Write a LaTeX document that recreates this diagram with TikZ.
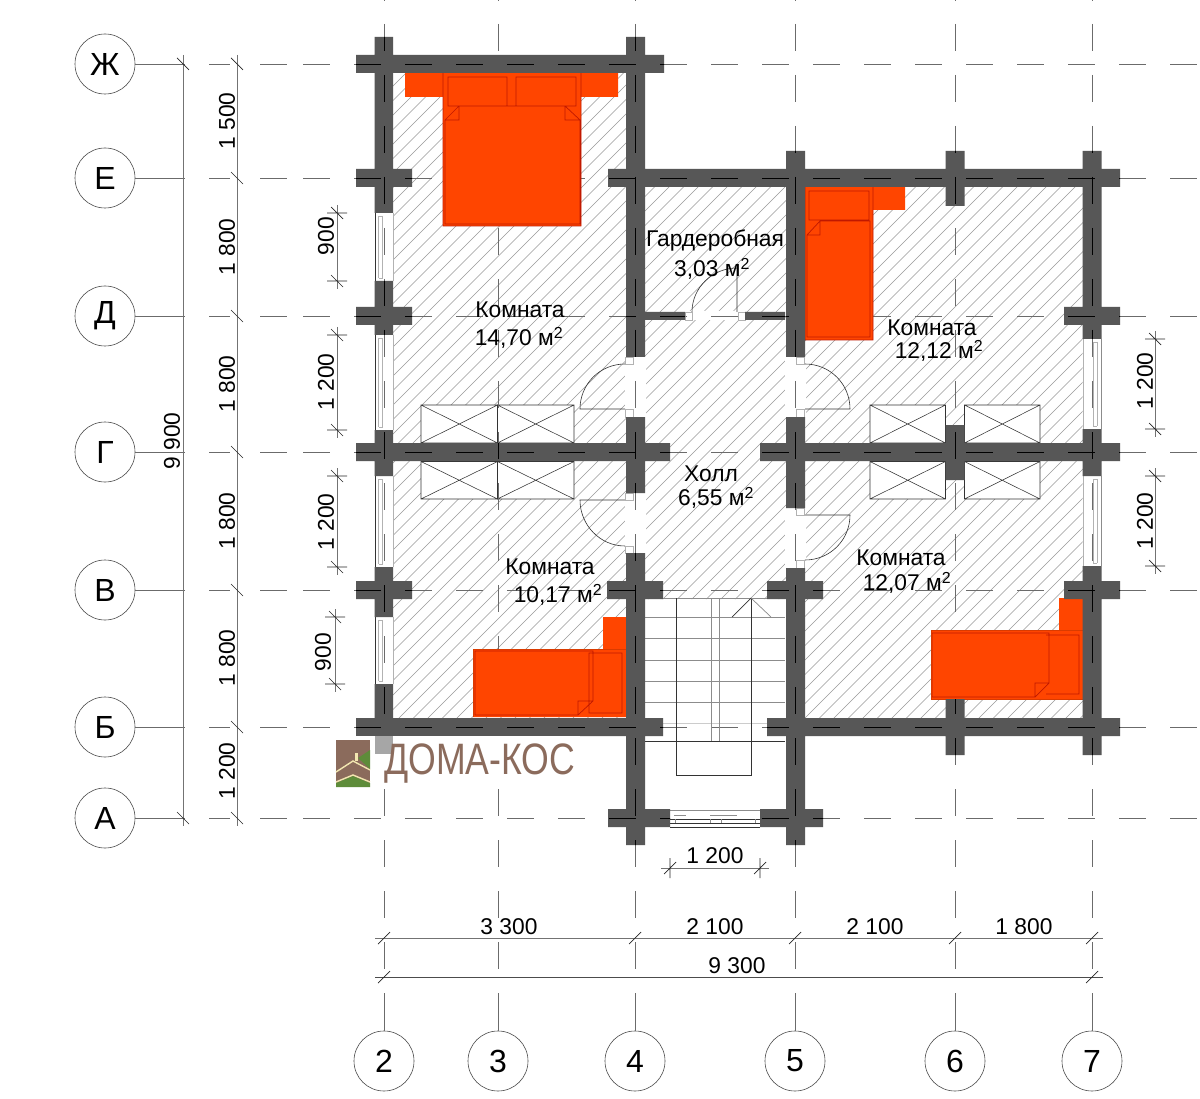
\documentclass[tikz,border=0pt]{standalone}
\usepackage{fontspec}
\usepackage{graphicx}
\setmainfont{Liberation Sans}
\definecolor{wallc}{HTML}{575757}
\definecolor{bedc}{HTML}{FF4500}
\definecolor{bedl}{HTML}{C01800}
\definecolor{logob}{HTML}{8B6B5C}
\definecolor{logog}{HTML}{5E8C3A}
\definecolor{logoc}{HTML}{F2E6B0}
\tikzset{
  hatchline/.style={draw=black!40,line width=0.6pt},
  axisline/.style={draw=black!58,line width=0.8pt},
  bubble/.style={circle,draw=black!70,line width=0.6pt,minimum size=60pt,inner sep=0pt,fill=white,font=\fontsize{32}{34}\selectfont},
  dimline/.style={draw=black!55,line width=0.8pt},
  dimtick/.style={draw=black!85,line width=0.7pt},
  dimtext/.style={inner sep=0pt,font=\fontsize{22.8}{24}\selectfont},
  roomtext/.style={inner sep=0pt,font=\fontsize{22.8}{24}\selectfont},
  fine/.style={draw=black!80,line width=0.7pt},
  faint/.style={draw=black!45,line width=0.7pt},
  winline/.style={draw=black!30,line width=0.6pt},
  bedbody/.style={fill=bedc},
  bedline/.style={draw=bedl,line width=0.7pt},
}
\newcommand\wallpath{
  (356,55) rectangle (664,73)
  (356,169) rectangle (412,187)
  (608,169) rectangle (1120,187)
  (356,307) rectangle (412,325)
  (1064,307) rectangle (1120,325)
  (356,443) rectangle (670,461)
  (760,443) rectangle (1120,461)
  (356,581) rectangle (412,599)
  (607,581) rectangle (663,599)
  (767,581) rectangle (823,599)
  (1064,581) rectangle (1120,599)
  (356,718) rectangle (663,736)
  (767,718) rectangle (1120,736)
  (608,809) rectangle (670,827)
  (760,809) rectangle (823,827)
  (645,312) rectangle (685,320)
  (745,312) rectangle (785,320)
  (374.5,37) rectangle (393,213)
  (374.5,281) rectangle (393,335)
  (374.5,430) rectangle (393,476)
  (374.5,567) rectangle (393,617)
  (374.5,684) rectangle (393,736)
  (626,37) rectangle (645,357)
  (626,417) rectangle (645,493)
  (626,553) rectangle (645,845)
  (786,151) rectangle (805,357)
  (786,417) rectangle (805,508)
  (786,568) rectangle (805,845)
  (945.5,151) rectangle (964.5,206)
  (945.5,425) rectangle (964.5,480)
  (945.5,699) rectangle (964.5,755)
  (1082.5,151) rectangle (1101.5,339)
  (1082.5,429) rectangle (1101.5,476)
  (1082.5,566) rectangle (1101.5,755)
}
\newcommand\gridlines[1]{
  \foreach \gy in {64,178,316,452,590,727,818}{
    \draw[#1] (209,\gy) -- (230,\gy);
    \draw[#1] (260,\gy) -- (287,\gy);
    \draw[#1,dash pattern=on 27pt off 24pt] (303,\gy) -- (1199,\gy);
  }
  \foreach \gx in {384,498,635,795,955,1092}{
    \draw[#1,dash pattern=on 27pt off 24pt] (\gx,24) -- (\gx,993);
    \draw[#1] (\gx,0) -- (\gx,1.5);
  }
}
\begin{document}
\begin{tikzpicture}[x=1pt,y=-1pt]
\useasboundingbox (0,0) rectangle (1200,1099);
\fill[white] (0,0) rectangle (1200,1099);
% floor hatch
\begin{scope}
  \clip (384,64) -- (635,64) -- (635,178) -- (1092,178) -- (1092,727) -- (795,727)
        -- (795,599) -- (635,599) -- (635,727) -- (384,727) -- cycle;
  \foreach \c in {450,464.5,...,1830}{
    \draw[hatchline] ({\c-50},50) -- ({\c-750},750);
  }
\end{scope}
% door strips and windows
\fill[white] (625,357) rectangle (646,417) (625,493) rectangle (646,553)
  (785,357) rectangle (806,417) (785,508) rectangle (806,568) (685,311) rectangle (745,320);
\fill[white] (374.5,213) rectangle (393,281) (374.5,335) rectangle (393,430)
  (374.5,476) rectangle (393,567) (374.5,617) rectangle (393,684)
  (1082.5,339) rectangle (1101.5,429) (1082.5,476) rectangle (1101.5,566);
% closets
\foreach \xa/\xb in {421/497.5,497.5/574,870/945.5,964.5/1040}{
  \foreach \ya/\yb in {405/443,461.5/499}{
    \fill[white] (\xa,\ya) rectangle (\xb,\yb);
    \draw[fine,line width=0.55pt] (\xa,\ya) rectangle (\xb,\yb) (\xa,\ya) -- (\xb,\yb) (\xa,\yb) -- (\xb,\ya);
  }
}
% stair
\foreach \sy in {617,638,660,681,702}{\draw[faint] (645,\sy) -- (785,\sy);}
\draw[draw=black!20,line width=0.7pt] (645,723) -- (785,723);
\draw[fine] (645,741) -- (785,741);
\draw[faint] (645,598.5) -- (785,598.5);
% axes, grey layer
\gridlines{axisline}
\draw[fine] (676,598) -- (676,775) -- (751,775) -- (751,598);
\draw[faint] (711,598) -- (711,741) (719,598) -- (719,741);
\draw[fine] (732,617) -- (751,598);
\draw[faint] (751,598) -- (771,617);
% entry door
\fill[white] (670,809) rectangle (760,827);
\draw[faint] (670,810) -- (760,810);
\draw[fine] (670,819) -- (760,819) (670,823) -- (760,823) (670,827) -- (760,827);
\draw[faint] (675,819) -- (675,823) (710,819) -- (710,823) (721,819) -- (721,823) (755,819) -- (755,823);
\draw[faint] (674,815) -- (686,815) (710,815) -- (737,815);
% windows
\foreach \wa/\wb in {213/281,335/430,476/567,617/684}{
  \draw[fine] (375,\wa) -- (375,\wb);
  \draw[winline] (378.5,\wa+3) -- (378.5,\wb-3) (382.5,\wa+3) -- (382.5,\wb-3) (378.5,\wa+3) -- (382.5,\wa+3) (378.5,\wb-3) -- (382.5,\wb-3);
  \draw[winline] (393,\wa) -- (393,\wb);
}
\foreach \wa/\wb in {339/429,476/566}{
  \draw[winline] (1083,\wa) -- (1083,\wb);
  \draw[winline] (1093,\wa+3) -- (1093,\wb-3) (1097,\wa+3) -- (1097,\wb-3) (1093,\wa+3) -- (1097,\wa+3) (1093,\wb-3) -- (1097,\wb-3);
  \draw[faint] (1101,\wa) -- (1101,\wb);
}
% doors
\draw[fine,line width=0.6pt] (625,409) -- (580,409) .. controls (580,384) and (600,364) .. (625,364);
\draw[fine,line width=0.6pt] (805,409) -- (850,409) .. controls (850,384) and (830,364) .. (805,364);
\draw[fine,line width=0.6pt] (625,500) -- (580,500) .. controls (580,525) and (600,546) .. (625,546);
\draw[fine,line width=0.6pt] (805,515) -- (850,515) .. controls (850,540) and (830,560) .. (805,560);
\draw[fine,line width=0.6pt] (737,312) -- (737,268) .. controls (712,268) and (692,288) .. (692,312);
\draw[winline] (625,357) rectangle (633,364) (625,409) rectangle (633,417)
  (625,493) rectangle (633,500) (625,546) rectangle (633,553)
  (804,357) rectangle (796,364) (804,409) rectangle (796,417)
  (804,508) rectangle (796,515) (804,560) rectangle (796,568)
  (685,312) rectangle (692,320) (738,312) rectangle (745,320);
% beds
\fill[bedbody] (405,73) rectangle (618,97) (443,73) rectangle (581,226);
\draw[bedline] (443,73) -- (443,226) -- (581,226) -- (581,73)
  (448,77) rectangle (507,106) (516,77) rectangle (576,106)
  (445,120) -- (459,106) -- (565,106) -- (580,120) -- (580,224) -- (445,224) -- cycle
  (459,106) -- (459,120) -- (445,120) (565,106) -- (565,120) -- (580,120);
\fill[bedbody] (805,187) rectangle (873,340) (873,187) rectangle (905,210);
\draw[bedline] (805,187) -- (805,340) -- (873,340) -- (873,187)
  (809,191) rectangle (869,220)
  (807,235) -- (820,221) -- (870,221) -- (870,337) -- (807,337) -- cycle
  (820,221) -- (820,235) -- (807,235);
\fill[bedbody] (473,649) rectangle (626,717) (603,617) rectangle (626,649);
\draw[bedline] (589,653) rectangle (622,713)
  (475,651) -- (593,651) -- (593,701) -- (578,715) -- (475,715) -- cycle
  (578,715) -- (578,701) -- (593,701);
\draw[draw=bedc!85!black,line width=0.6pt] (626,649) -- (473,649) -- (473,717);
\fill[bedbody] (931,630) rectangle (1083,699) (1059,598) rectangle (1083,630);
\draw[bedline] (1046,635) -- (1079,635) -- (1079,694) -- (1046,694)
  (932,633) -- (1049,633) -- (1049,683) -- (1035,697) -- (932,697) -- cycle
  (1035,697) -- (1035,683) -- (1049,683);
\draw[draw=bedc!85!black,line width=0.6pt] (1083,630) -- (931,630) -- (931,699) -- (1083,699);
% walls
\fill[wallc] \wallpath;
\begin{scope}
  \clip \wallpath;
  \gridlines{draw=black,line width=0.8pt}
\end{scope}
% logo
\fill[white] (336,736) rectangle (580,788);
\fill[black!35] (374.5,736) rectangle (393,754);
\fill[logob] (336,740) rectangle (370,787);
\fill[logog] (358,758) -- (370,750) -- (370,769) -- cycle;
\fill[logog] (336,787) -- (336,783) -- (353,776) -- (370,783) -- (370,787) -- cycle;
\draw[logoc,line width=1.4pt] (336,772) -- (353,761) -- (370,770);
\draw[logoc,line width=1.4pt] (336,782) -- (353,775) -- (370,782);
\fill[logoc] (355,753) rectangle (358,761);
\node[anchor=west,inner sep=0pt,text=logob,font=\fontsize{44}{46}\selectfont] (logotext) at (384,763.5) {\scalebox{0.81}[1]{ДОМА-КОС}};
% axis bubbles and leaders
\foreach \nm/\txt/\gy in {zh/Ж/64,e/Е/178,d/Д/316,g/Г/452,v/В/590,b/Б/727,a/А/818}{
  \node[bubble] (ax\nm) at (105,\gy) {\txt};
  \coordinate (ax\nm end) at (185,\gy);
  \draw[axisline] (ax\nm) -- (ax\nm end);
}
\foreach \txt/\gx in {2/384,3/498,4/635,5/795,6/955,7/1092}{
  \node[bubble] (ax\txt) at (\gx,1061) {\txt};
  \coordinate (ax\txt end) at (\gx,993);
  \draw[axisline] (ax\txt) -- (ax\txt end);
}
% vertical dimensions
\coordinate (v1a) at (183,55); \coordinate (v1b) at (183,826); \draw[dimline] (v1a) -- (v1b);
\coordinate (v2a) at (237,55); \coordinate (v2b) at (237,826); \draw[dimline] (v2a) -- (v2b);
\foreach \ty in {64,818}{\draw[dimtick] (177,\ty-6) -- (189,\ty+6);}
\foreach \ty in {64,178,316,452,590,727,818}{\draw[dimtick] (231,\ty-6) -- (243,\ty+6);}
\foreach \tx/\ya/\yb in {337/213/281,337/335/430,337/476/567,335/617/684,1155/339/429,1155/476/566}{
  \draw[dimline] (\tx,\ya-8) -- (\tx,\yb+8);
  \draw[dimtick] (\tx-10,\ya) -- (\tx+10,\ya) (\tx-6,\ya-6) -- (\tx+6,\ya+6);
  \draw[dimtick] (\tx-10,\yb) -- (\tx+10,\yb) (\tx-6,\yb-6) -- (\tx+6,\yb+6);
}
% horizontal dimensions
\draw[dimline] (375,938) -- (1103,938);
\draw[dimline,draw=black!70] (375,977) -- (1103,977);
\foreach \tx in {384,635,795,955,1092}{\draw[dimtick] (\tx-6,944) -- (\tx+6,932);}
\foreach \tx in {384,1092}{\draw[dimtick] (\tx-6,983) -- (\tx+6,971);}
\draw[dimline] (661,868) -- (769,868);
\foreach \tx in {670,760}{\draw[dimtick] (\tx-6,874) -- (\tx+6,862) (\tx,858) -- (\tx,878);}
% dimension texts
\node[dimtext] (t33) at (509,927) {3 300};
\node[dimtext] (t21a) at (715,927) {2 100};
\node[dimtext] (t21b) at (875,927) {2 100};
\node[dimtext] (t18x) at (1024,927) {1 800};
\node[dimtext] (t93) at (737,966) {9 300};
\node[dimtext] (t12x) at (715,856) {1 200};
\node[dimtext,rotate=90] (t99) at (172,441) {9 900};
\node[dimtext,rotate=90] (t15) at (227,121) {1 500};
\node[dimtext,rotate=90] (t18a) at (227,247) {1 800};
\node[dimtext,rotate=90] (t18b) at (227,384) {1 800};
\node[dimtext,rotate=90] (t18c) at (227,521) {1 800};
\node[dimtext,rotate=90] (t18d) at (227,658) {1 800};
\node[dimtext,rotate=90] (t12y) at (227,771) {1 200};
\node[dimtext,rotate=90] (l9a) at (326,236) {900};
\node[dimtext,rotate=90] (l12a) at (326,382) {1 200};
\node[dimtext,rotate=90] (l12b) at (326,522) {1 200};
\node[dimtext,rotate=90] (l9b) at (323,652) {900};
\node[dimtext,rotate=90] (r12a) at (1145,381) {1 200};
\node[dimtext,rotate=90] (r12b) at (1145,521) {1 200};
% room labels
\node[roomtext] (r1a) at (520,310) {Комната};
\node[roomtext] (r1b) at (519,338) {14,70 м\textsuperscript{2}};
\node[roomtext] (r2a) at (715,241) {Гардеробная};
\node[roomtext] (r2b) at (712,269) {3,03 м\textsuperscript{2}};
\node[roomtext] (r3a) at (932,328) {Комната};
\node[roomtext] (r3b) at (939,351) {12,12 м\textsuperscript{2}};
\node[roomtext] (r4a) at (711,474) {Холл};
\node[roomtext] (r4b) at (716,498) {6,55 м\textsuperscript{2}};
\node[roomtext] (r5a) at (550,567) {Комната};
\node[roomtext] (r5b) at (558,595) {10,17 м\textsuperscript{2}};
\node[roomtext] (r6a) at (901,558) {Комната};
\node[roomtext] (r6b) at (907,583) {12,07 м\textsuperscript{2}};
\end{tikzpicture}
\end{document}
